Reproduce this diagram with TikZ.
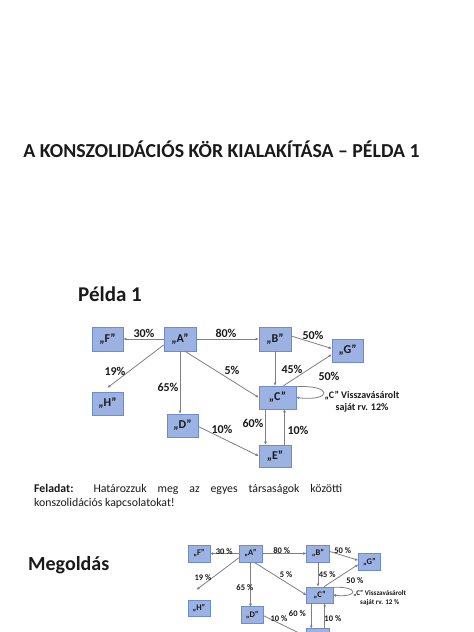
\documentclass[tikz,border=0pt]{standalone}
\usepackage{fontspec}
\setmainfont{Carlito}
\usetikzlibrary{arrows.meta,calc}
\definecolor{boxfill}{HTML}{9CB2E2}
\definecolor{boxline}{HTML}{6E8CCB}
\definecolor{conn}{HTML}{808080}
\definecolor{txt}{HTML}{1A1A1A}
\tikzset{
  co/.style={draw=boxline, fill=boxfill, line width=0.6pt, inner sep=0pt, text=txt,
    font=\fontsize{12}{12}\selectfont\bfseries},
  lnk/.style={draw=conn, line width=0.8pt, -{Latex[length=3pt,width=3pt]}},
  pct/.style={font=\fontsize{12}{12}\selectfont\bfseries, inner sep=0pt, text=txt},
  loopnote/.style={font=\fontsize{10}{12}\selectfont\bfseries, align=center, inner sep=0pt, text=txt},
  heading/.style={font=\fontsize{20}{20}\selectfont\bfseries, inner sep=0pt, text=txt},
}
\begin{document}
\begin{tikzpicture}[x=1pt,y=-1pt]
\useasboundingbox (0,0) rectangle (474,632);
\clip (0,0) rectangle (474,632);
\fill[white] (0,0) rectangle (474,632);

% title and headings
\node[heading, font=\fontsize{19.8}{19.8}\selectfont\bfseries, anchor=base] (title) at (221.5,157.5)
  {A KONSZOLIDÁCIÓS KÖR KIALAKÍTÁSA – PÉLDA 1};
\node[heading, font=\fontsize{21}{21}\selectfont\bfseries, anchor=base west] (pelda) at (78,301) {Példa 1};
\node[heading, anchor=base west] (megold) at (28,570) {Megoldás};

\node[anchor=base west, inner sep=0pt, text width=308pt, align=justify, text=txt,
  font=\fontsize{11.8}{14}\selectfont] (task) at (34,492.5)
  {\textbf{Feladat:} Határozzuk meg az egyes társaságok közötti\linebreak konszolidációs kapcsolatokat!};

% ---------- diagram 1 ----------
\node[co, minimum width=31pt, minimum height=24pt] (F) at (107.5,339) {„F”};
\node[co, minimum width=32pt, minimum height=24pt] (A) at (180,339) {„A”};
\node[co, minimum width=32pt, minimum height=24pt] (B) at (275,339) {„B”};
\node[co, minimum width=31pt, minimum height=23pt] (G) at (347.5,350.5) {„G”};
\node[co, minimum width=37pt, minimum height=23pt] (C) at (277.5,397.5) {„C”};
\node[co, minimum width=32pt, minimum height=22pt] (E) at (275,456) {„E”};
\node[co, minimum width=31pt, minimum height=23pt] (H) at (107.5,403.5) {„H”};
\node[co, minimum width=31pt, minimum height=23pt] (D) at (182.5,425.5) {„D”};

\draw[lnk] (A.west) -- (F.east);
\draw[lnk] (A.east) -- (B.west);
\draw[lnk] (A.200) -- ([yshift=4pt]H.north);
\draw[lnk] (A.south) -- (A.south |- D.north);
\draw[lnk] ([xshift=5pt]A.south) -- (C.west);
\draw[lnk] (B.south) -- (B.south |- C.north);
\draw[lnk] ([yshift=3pt]B.east) -- ([yshift=2pt]G.west);
\draw[lnk] ([xshift=6pt]C.north) -- (G.194);
\draw[lnk] ([yshift=-1pt]C.north east) .. controls +(37,-2) and +(36,4) .. (C.east);
\draw[lnk] ([xshift=-12pt]C.south) -- ([xshift=-12pt]C.south |- E.north);
\draw[lnk] ([xshift=7pt]C.south |- E.north) -- ([xshift=7pt]C.south);
\draw[lnk] ([yshift=-1pt]D.east) -- (E.west);

\node[pct] (p30) at (144,333) {30\%};
\node[pct] (p80) at (226,333) {80\%};
\node[pct] (p19) at (115,371) {19\%};
\node[pct] (p5) at (232,370) {5\%};
\node[pct] (p65) at (168,387) {65\%};
\node[pct] (p10a) at (222,429) {10\%};
\node[pct] (p60) at (253,423) {60\%};
\node[pct] (p50a) at (313,335) {50\%};
\node[pct] (p45) at (292,369) {45\%};
\node[pct] (p50b) at (329,376) {50\%};
\node[pct] (p10b) at (298,430) {10\%};
\node[loopnote] (cnote) at (362,402) {„C” Visszavásárolt\\saját rv. 12\%};

% ---------- diagram 2 (solution, scaled) ----------
\begin{scope}[shift={(122.7,312.8)}, scale=0.71, transform shape]
\node[co, minimum width=31pt, minimum height=24pt] (bF) at (107.5,339) {„F”};
\node[co, minimum width=32pt, minimum height=24pt] (bA) at (180,339) {„A”};
\node[co, minimum width=32pt, minimum height=24pt] (bB) at (275,339) {„B”};
\node[co, minimum width=31pt, minimum height=23pt] (bG) at (347.5,350.5) {„G”};
\node[co, minimum width=37pt, minimum height=23pt] (bC) at (277.5,397.5) {„C”};
\node[co, minimum width=32pt, minimum height=22pt] (bE) at (275,456) {};
\node[co, minimum width=31pt, minimum height=23pt] (bH) at (107.5,416) {„H”};
\node[co, minimum width=31pt, minimum height=23pt] (bD) at (182.5,425.5) {„D”};
\coordinate (bHtip) at (104,390);

\draw[lnk] (bA.west) -- (bF.east);
\draw[lnk] (bA.east) -- (bB.west);
\draw[lnk] (bA.200) -- (bHtip);
\draw[lnk] (bA.south) -- (bA.south |- bD.north);
\draw[lnk] ([xshift=5pt]bA.south) -- (bC.west);
\draw[lnk] (bB.south) -- (bB.south |- bC.north);
\draw[lnk] ([yshift=3pt]bB.east) -- ([yshift=2pt]bG.west);
\draw[lnk] ([xshift=6pt]bC.north) -- (bG.194);
\draw[lnk] ([yshift=-1pt]bC.north east) .. controls +(37,-2) and +(36,4) .. (bC.east);
\draw[lnk] ([xshift=-12pt]bC.south) -- ([xshift=-12pt]bC.south |- bE.north);
\draw[lnk] ([xshift=7pt]bC.south |- bE.north) -- ([xshift=7pt]bC.south);
\draw[lnk] ([yshift=-1pt]bD.east) -- (bE.west);

\node[pct] (bp30) at (143,337) {30 \%};
\node[pct] (bp80) at (224,335.5) {80 \%};
\node[pct] (bp19) at (113,373.5) {19 \%};
\node[pct] (bp5) at (230,369) {5 \%};
\node[pct] (bp65) at (172,387.5) {65 \%};
\node[pct] (bp10a) at (220,430) {10 \%};
\node[pct] (bp60) at (246,423) {60 \%};
\node[pct] (bp50a) at (310,335.5) {50 \%};
\node[pct] (bp45) at (288,369) {45 \%};
\node[pct] (bp50b) at (327,377.5) {50 \%};
\node[pct] (bp10b) at (296,431) {10 \%};
\node[loopnote] (bcnote) at (362,402) {„C” Visszavásárolt\\saját rv. 12 \%};
\end{scope}
\end{tikzpicture}
\end{document}
